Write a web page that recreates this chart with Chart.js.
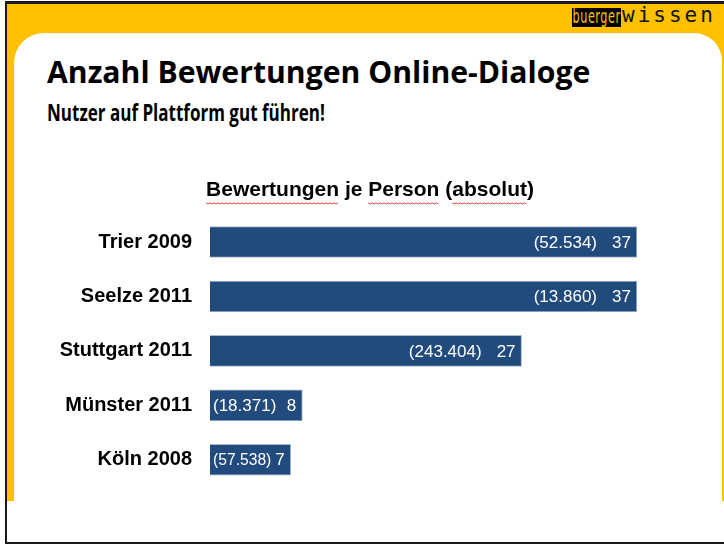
<!DOCTYPE html>
<html lang="de">
<head>
<meta charset="utf-8">
<title>Anzahl Bewertungen Online-Dialoge</title>
<script src="https://cdn.jsdelivr.net/npm/chart.js@4.4.1/dist/chart.umd.min.js"></script>
<style>
    html, body {
        margin: 0;
        padding: 0;
    }
    body {
        width: 724px;
        height: 545px;
        position: relative;
        overflow: hidden;
        background: #ffffff;
    }
    .frame-line {
        position: absolute;
        background: #1a1a1a;
    }
    .yellow {
        position: absolute;
        left: 7px;
        top: 4px;
        width: 717px;
        height: 497px;
        background: #ffc000;
    }
    .sheet {
        position: absolute;
        left: 14px;
        top: 33px;
        width: 708px;
        height: 468px;
        background: #ffffff;
        border-radius: 30px 28px 0 0;
    }
    .logo-dark {
        position: absolute;
        left: 572px;
        top: 8px;
        width: 49px;
        height: 19px;
        background: #000000;
        overflow: hidden;
    }
    .logo-dark span {
        display: inline-block;
        padding-left: 1px;
        font-family: "DejaVu Sans", sans-serif;
        font-size: 20px;
        line-height: 17px;
        color: #ffc000;
        white-space: nowrap;
        transform-origin: 0 0;
        transform: scaleX(0.56);
        letter-spacing: 1px;
    }
    .logo-light {
        position: absolute;
        left: 622px;
        top: 5px;
        font-family: "DejaVu Sans Mono", monospace;
        font-size: 21px;
        line-height: 21px;
        letter-spacing: 3px;
        color: #111111;
        white-space: nowrap;
    }
    .headline {
        position: absolute;
        left: 47px;
        margin: 0;
        font-family: "Open Sans", sans-serif;
        font-weight: bold;
        color: #000000;
        white-space: nowrap;
        transform-origin: 0 0;
    }
    #title {
        top: 56px;
        font-size: 31px;
        line-height: 31px;
    }
    #subtitle {
        top: 100px;
        font-size: 24px;
        line-height: 24px;
    }
    #chart {
        position: absolute;
        left: 20px;
        top: 170px;
    }
</style>
</head>
<body>
<div class="frame-line" style="left:5px;top:1px;width:719px;height:3px;"></div>
<div class="frame-line" style="left:5px;top:1px;width:2px;height:543px;"></div>
<div class="frame-line" style="left:5px;top:542px;width:719px;height:2px;"></div>
<div class="yellow"></div>
<div class="sheet"></div>
<div class="logo-dark"><span>buerger</span></div>
<div class="logo-light">wissen</div>
<h1 class="headline" id="title">Anzahl Bewertungen Online-Dialoge</h1>
<h2 class="headline" id="subtitle">Nutzer auf Plattform gut führen!</h2>
<canvas id="chart" width="700" height="347"></canvas>

<script>
    var places = ['Trier 2009', 'Seelze 2011', 'Stuttgart 2011', 'Münster 2011', 'Köln 2008'];
    var ratingsPerPerson = [37, 37, 27, 8, 7];
    var participants = [52534, 13860, 243404, 18371, 57538];

    var chartTitle = 'Bewertungen je Person (absolut)';
    var markedWords = ['Bewertungen', 'Person', 'absolut'];

    var barColor = '#214a7d';
    var barEdge = '#a9b8cc';
    var labelFont = '"Liberation Sans", Arial, sans-serif';

    function fitWidth(id, target) {
        var el = document.getElementById(id);
        var w = el.scrollWidth;
        if (w > 0) {
            el.style.transform = 'scaleX(' + (target / w) + ')';
        }
    }

    fitWidth('title', 543);
    fitWidth('subtitle', 278);

    function thousands(n) {
        return String(n).replace(/\B(?=(\d{3})+(?!\d))/g, '.');
    }

    // value + (participants) written inside the right end of every bar
    var barLabels = {
        id: 'barLabels',
        afterDatasetsDraw: function (chart) {
            var ctx = chart.ctx;
            var meta = chart.getDatasetMeta(0);

            ctx.save();
            ctx.fillStyle = '#ffffff';
            ctx.textBaseline = 'middle';
            ctx.textAlign = 'right';
            ctx.font = '17px ' + labelFont;

            meta.data.forEach(function (bar, i) {
                var valueText = String(ratingsPerPerson[i]);
                var countText = '(' + thousands(participants[i]) + ')';
                var right = bar.x - 6;
                var y = bar.y + 1;

                ctx.fillText(valueText, right, y);

                var valueLeft = right - ctx.measureText(valueText).width;
                var w = ctx.measureText(countText).width;
                var space = valueLeft - (bar.base + 3);
                var gap = Math.min(15, Math.max(4, space - w));
                var squeeze = Math.min(1, (space - gap) / w);

                ctx.save();
                ctx.translate(valueLeft - gap, y);
                ctx.scale(squeeze, 1);
                ctx.fillText(countText, 0, 0);
                ctx.restore();
            });

            ctx.restore();
        }
    };

    // the red spell-check squiggles under some title words
    var squiggles = {
        id: 'squiggles',
        afterDraw: function (chart) {
            var box = chart.titleBlock;
            if (!box) {
                return;
            }
            var ctx = chart.ctx;
            ctx.save();
            ctx.font = 'bold 21px ' + labelFont;
            var full = ctx.measureText(chartTitle).width;
            var start = (box.left + box.right) / 2 - full / 2;
            var y = box.top + box.height / 2 + 10.5;

            ctx.strokeStyle = '#e04040';
            ctx.lineWidth = 1;
            markedWords.forEach(function (word) {
                var idx = chartTitle.indexOf(word);
                var x0 = start + ctx.measureText(chartTitle.slice(0, idx)).width;
                var x1 = x0 + ctx.measureText(word).width;
                ctx.beginPath();
                for (var x = x0, k = 0; x <= x1; x += 2, k++) {
                    var yy = y + (k % 2 ? 1 : 0);
                    if (k === 0) {
                        ctx.moveTo(x, yy);
                    } else {
                        ctx.lineTo(x, yy);
                    }
                }
                ctx.stroke();
            });
            ctx.restore();
        }
    };

    new Chart(document.getElementById('chart'), {
        type: 'bar',
        data: {
            labels: places,
            datasets: [{
                data: ratingsPerPerson,
                backgroundColor: barColor,
                borderColor: barEdge,
                borderWidth: 1,
                barThickness: 31,
                categoryPercentage: 1
            }]
        },
        options: {
            indexAxis: 'y',
            responsive: false,
            animation: false,
            layout: {
                padding: { top: 0, right: 0, bottom: 8, left: 0 }
            },
            plugins: {
                legend: { display: false },
                tooltip: { enabled: false },
                title: {
                    display: true,
                    text: chartTitle,
                    color: '#000000',
                    font: { family: labelFont, size: 21, weight: 'bold' },
                    padding: { top: 7.4, bottom: 12.2 }
                }
            },
            scales: {
                x: {
                    display: false,
                    min: 0,
                    max: 44.2
                },
                y: {
                    grid: { display: false, drawTicks: false },
                    border: { display: false },
                    ticks: {
                        color: '#000000',
                        padding: 18,
                        font: { family: labelFont, size: 20, weight: 'bold' }
                    },
                    afterFit: function (scale) {
                        scale.width = 190;
                    }
                }
            }
        },
        plugins: [barLabels, squiggles]
    });
</script>
</body>
</html>
